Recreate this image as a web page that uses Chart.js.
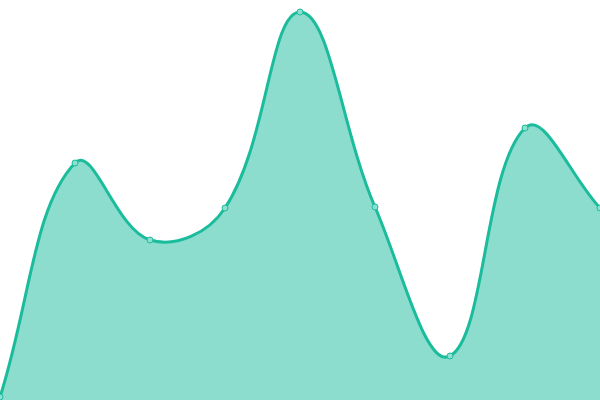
<!DOCTYPE html>
<html><head><meta charset="utf-8">
<script src="https://cdn.jsdelivr.net/npm/chart.js@4"></script>
<style>html,body{margin:0;padding:0;background:#fff}#wrap{width:600px;height:400px}</style>
</head><body><div id="wrap"><canvas id="c"></canvas></div>
<script>
const labels = ["A","B","C","D","E","F","G","H","I"];
const values = [3, 237, 160, 192, 388, 193, 44, 272, 192];
new Chart(document.getElementById('c'), {
  type: 'line',
  data: { labels: labels, datasets: [{
    data: values,
    borderColor: '#1abc9c',
    backgroundColor: 'rgba(26,188,156,0.5)',
    borderWidth: 3,
    fill: true,
    tension: 0.4,
    pointRadius: 3,
    pointBorderWidth: 1,
    pointBackgroundColor: '#8ddfcf',
    pointBorderColor: '#1abc9c'
  }]},
  options: {
    responsive: true, maintainAspectRatio: false, animation: false,
    layout: { padding: 0, autoPadding: false },
    plugins: { legend: { display: false }, tooltip: { enabled: false } },
    scales: {
      x: { display: false, offset: false },
      y: { display: false, min: 0, max: 400 }
    }
  }
});
</script></body></html>
